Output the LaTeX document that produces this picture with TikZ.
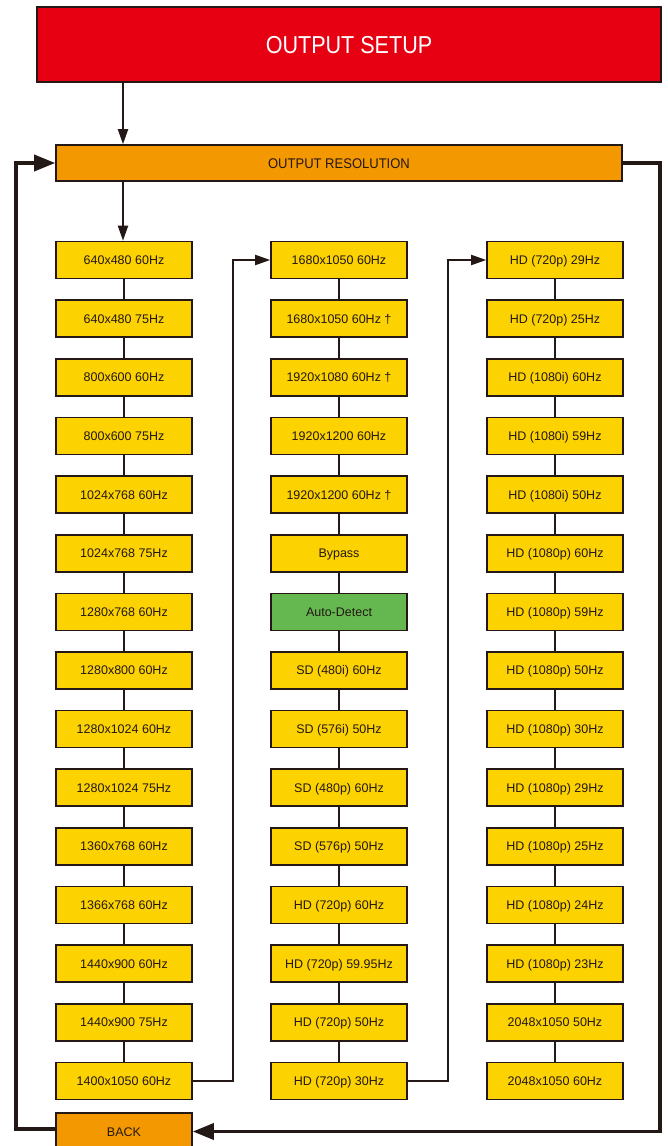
\documentclass[tikz,border=0pt]{standalone}
\usepackage{fontspec}
\setmainfont{Liberation Sans}
\newfontfamily\condfont[FakeStretch=0.88]{Liberation Sans}
\newfontfamily\semicondfont[FakeStretch=0.93]{Liberation Sans}
\usetikzlibrary{arrows.meta,calc}
\definecolor{ink}{HTML}{231815}
\definecolor{setupred}{HTML}{E60012}
\definecolor{resorange}{HTML}{F39800}
\definecolor{boxyellow}{HTML}{FCD200}
\definecolor{autogreen}{HTML}{65B84F}
\tikzset{
  box/.style={draw=ink, line width=1.6pt, fill=boxyellow, minimum width=136pt,
    minimum height=37pt, inner sep=0pt, text=ink, text height=9pt, text depth=0pt,
    font=\fontsize{12.5}{14}\selectfont},
  greenbox/.style={box, fill=autogreen},
  orangebox/.style={box, fill=resorange},
  conn/.style={draw=ink, line width=2pt},
  arr/.style={conn, -{Triangle[length=15pt,width=10pt]}},
  loopline/.style={draw=ink, line width=3.5pt},
  looparr/.style={loopline, -{Triangle[length=21pt,width=16pt]}},
}
\begin{document}
\begin{tikzpicture}[x=1pt,y=-1pt]
\useasboundingbox (0,0) rectangle (667,1146);
\node[draw=ink, line width=1.6pt, fill=setupred, minimum width=624pt, minimum height=75pt,
  inner sep=0pt, text=white, text height=17pt, text depth=0pt,
  font=\condfont\fontsize{24.5}{26}\selectfont] (setup) at (349,44.5) {OUTPUT SETUP};
\node[orangebox, minimum width=566pt, minimum height=36pt, text height=10pt,
  font=\semicondfont\fontsize{14}{16}\selectfont] (res) at (339,163) {OUTPUT RESOLUTION};
\foreach \t [count=\i] in {640x480 60Hz, 640x480 75Hz, 800x600 60Hz, 800x600 75Hz,
  1024x768 60Hz, 1024x768 75Hz, 1280x768 60Hz, 1280x800 60Hz, 1280x1024 60Hz,
  1280x1024 75Hz, 1360x768 60Hz, 1366x768 60Hz, 1440x900 60Hz, 1440x900 75Hz,
  1400x1050 60Hz}
  \node[box] (a\i) at (124,{260+(\i-1)*58.64}) {\t};
\foreach \t [count=\i] in {1680x1050 60Hz, 1680x1050 60Hz †, 1920x1080 60Hz †,
  1920x1200 60Hz, 1920x1200 60Hz †, Bypass, Auto-Detect, SD (480i) 60Hz,
  SD (576i) 50Hz, SD (480p) 60Hz, SD (576p) 50Hz, HD (720p) 60Hz,
  HD (720p) 59.95Hz, HD (720p) 50Hz, HD (720p) 30Hz}
  \node[box] (b\i) at (339,{260+(\i-1)*58.64}) {\t};
\node[greenbox] at (b7) {Auto-Detect};
\foreach \t [count=\i] in {HD (720p) 29Hz, HD (720p) 25Hz, HD (1080i) 60Hz,
  HD (1080i) 59Hz, HD (1080i) 50Hz, HD (1080p) 60Hz, HD (1080p) 59Hz,
  HD (1080p) 50Hz, HD (1080p) 30Hz, HD (1080p) 29Hz, HD (1080p) 25Hz,
  HD (1080p) 24Hz, HD (1080p) 23Hz, 2048x1050 50Hz, 2048x1050 60Hz}
  \node[box] (c\i) at (555,{260+(\i-1)*58.64}) {\t};
\node[orangebox] (back) at (124,1131.5) {BACK};
% vertical chains
\foreach \col in {a,b,c}{
  \foreach \k in {1,...,14}{
    \pgfmathtruncatemacro{\nxt}{\k+1}
    \draw[conn] (\col\k) -- (\col\nxt);
  }
}
% top arrows
\coordinate (ax) at (123,0);
\draw[arr] (setup.south -| ax) -- (res.north -| ax);
\draw[arr] (res.south -| ax) -- (a1.north -| ax);
% column links
\draw[arr] (a15.east) -- ++(40,0) |- (b1.west);
\draw[arr] (b15.east) -- ++(40,0) |- (c1.west);
% loops
\coordinate (rr) at (660,0);
\coordinate (ll) at (16,0);
\coordinate (lb) at (0,1129);
\draw[looparr] (res.east) -- (res.east -| rr) -- (rr |- back.east) -- (back.east);
\draw[looparr] (back.west |- lb) -- (ll |- lb) -- (ll |- res.west) -- (res.west);
\end{tikzpicture}
\end{document}
